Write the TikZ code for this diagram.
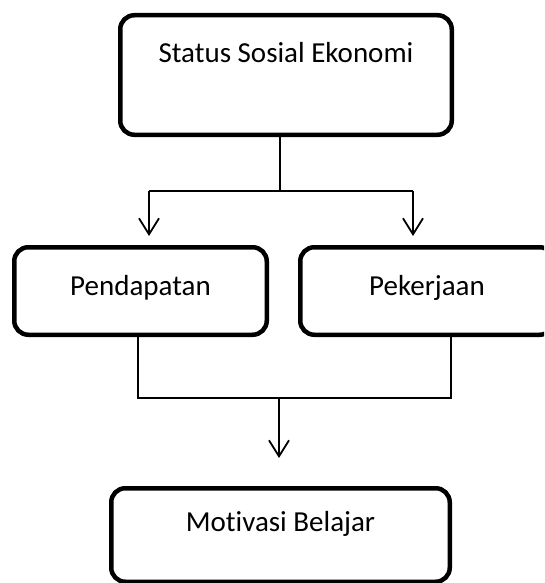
\documentclass[tikz,border=0pt]{standalone}
\usepackage{fontspec}
\setmainfont[Ligatures=NoCommon]{Carlito}
\usetikzlibrary{arrows.meta,calc}
\begin{document}
\begin{tikzpicture}[x=1pt,y=-1pt,
  box/.style={draw=black, line width=4.5pt, rounded corners=14pt, inner sep=0pt,
    font=\fontsize{29}{34}\selectfont, anchor=center},
  conn/.style={draw=black, line width=1.8pt},
  arr/.style={conn, -{Straight Barb[length=16pt,width=20pt,line width=1.8pt]}}]
\useasboundingbox (0,0) rectangle (544,583);
\clip (0,0) rectangle (544,583);
\fill[white] (0,0) rectangle (544,583);
% boxes
\node[box, minimum width=331.5pt, minimum height=119.5pt,
      text height=47.75pt, text depth=71.75pt] (top) at (286,75) {Status Sosial Ekonomi};
\node[box, minimum width=252.5pt, minimum height=87.5pt,
      text height=48.45pt, text depth=39.05pt] (left) at (140.5,291) {Pendapatan};
\node[box, minimum width=253.5pt, minimum height=87.5pt,
      text height=48.45pt, text depth=39.05pt] (right) at (427,291) {Pekerjaan};
\node[box, minimum width=338.5pt, minimum height=93.5pt,
      text height=43.45pt, text depth=50.05pt] (bot) at (280.5,535) {Motivasi Belajar};
% junctions
\coordinate (j1) at (280,191);
\coordinate (aL) at (149,191);
\coordinate (aR) at (413,191);
\coordinate (bL) at (138,398);
\coordinate (bR) at (451,398);
\coordinate (bM) at (279,398);
% connectors
\draw[conn] (top.south -| j1) -- (j1);
\draw[conn] (aL) -- (aR);
\draw[arr, shorten >=9pt] (aL) -- (aL |- left.north);
\draw[arr, shorten >=9pt] (aR) -- (aR |- right.north);
\draw[conn] (left.south -| bL) -- (bL) -- (bR) -- (right.south -| bR);
\draw[arr, shorten >=28pt] (bM) -- (bM |- bot.north);
\end{tikzpicture}
\end{document}
